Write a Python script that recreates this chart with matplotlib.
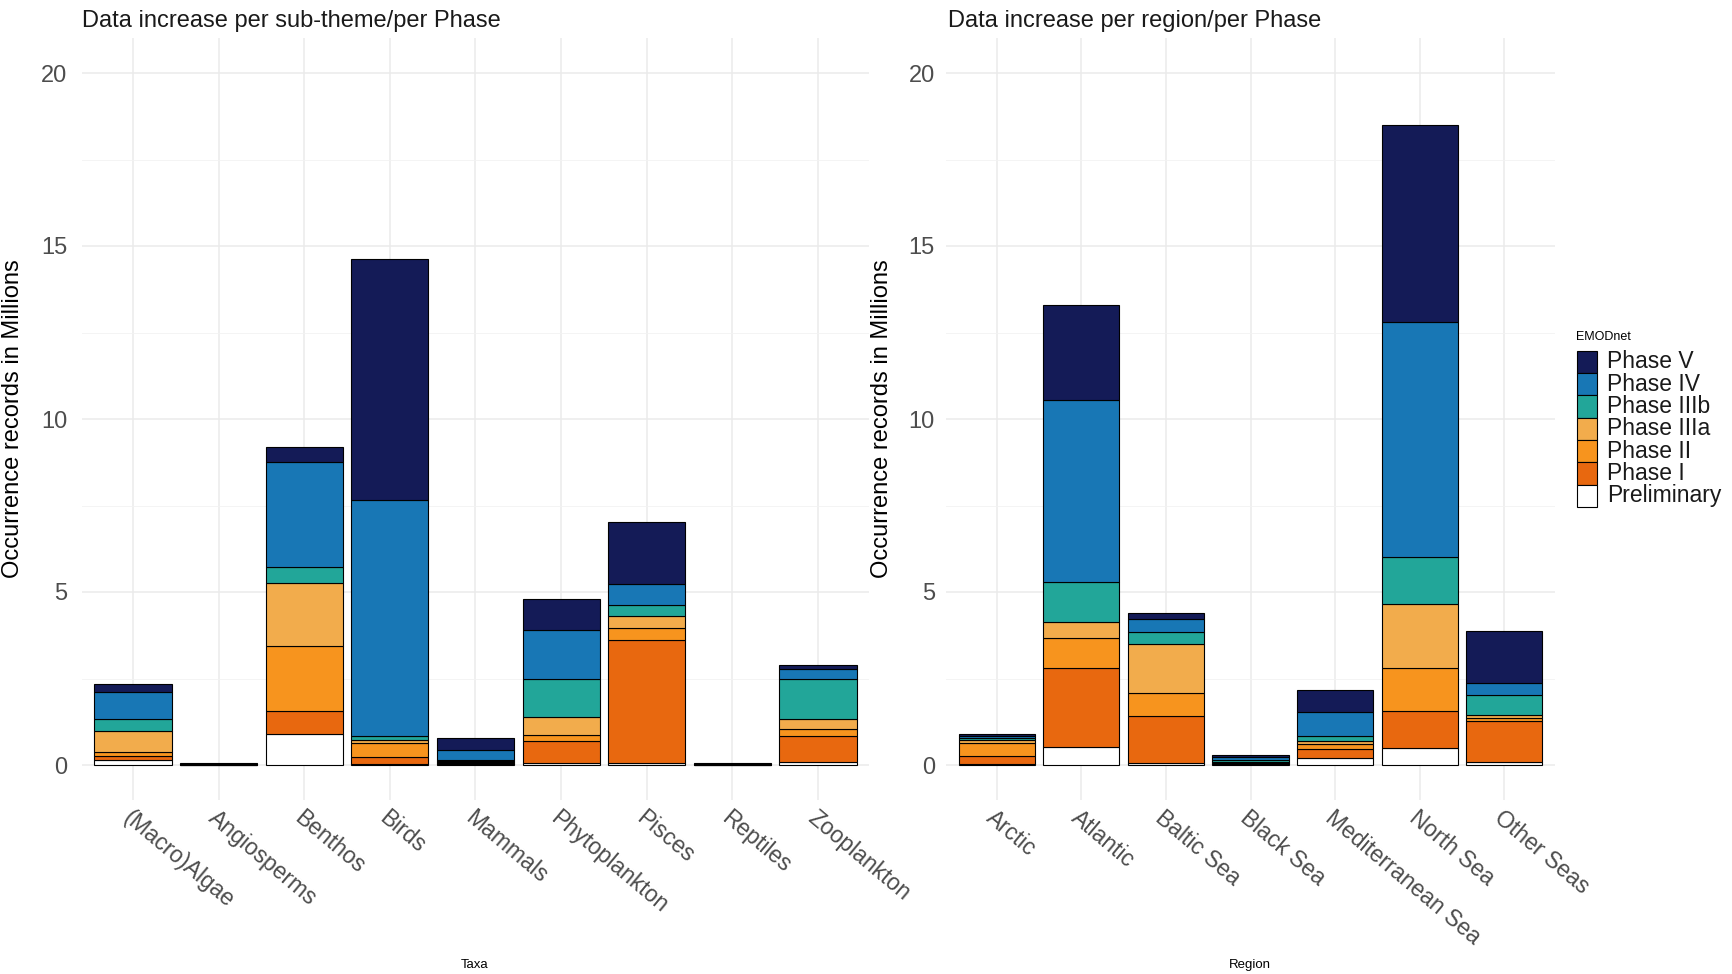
import numpy as np
import matplotlib
matplotlib.use('Agg')
import matplotlib.pyplot as plt
from matplotlib.patches import Rectangle

plt.rcParams['font.family'] = ['Liberation Sans', 'DejaVu Sans']

# ---------------------------------------------------------------
PHASES = ['Preliminary', 'Phase I', 'Phase II', 'Phase IIIa',
          'Phase IIIb', 'Phase IV', 'Phase V']
COLORS = ['#ffffff', '#e8680f', '#f7941e', '#f2ac4c',
          '#22a699', '#1877b5', '#141b57']

taxa = ['(Macro)Algae', 'Angiosperms', 'Benthos', 'Birds', 'Mammals',
        'Phytoplankton', 'Pisces', 'Reptiles', 'Zooplankton']
taxa_prelim = [0.14, 0.005, 0.91, 0.04, 0.03, 0.05, 0.07, 0.005, 0.10]
taxa_p1     = [0.12, 0.005, 0.66, 0.20, 0.04, 0.63, 3.54, 0.005, 0.73]
taxa_p2     = [0.11, 0.005, 1.88, 0.39, 0.03, 0.19, 0.35, 0.005, 0.22]
taxa_p3a    = [0.60, 0.005, 1.81, 0.10, 0.03, 0.51, 0.36, 0.005, 0.28]
taxa_p3b    = [0.36, 0.005, 0.45, 0.12, 0.02, 1.10, 0.31, 0.005, 1.15]
taxa_p4     = [0.79, 0.010, 3.06, 6.81, 0.29, 1.43, 0.59, 0.010, 0.29]
taxa_p5     = [0.21, 0.010, 0.42, 6.95, 0.34, 0.88, 1.80, 0.010, 0.12]

regions = ['Arctic', 'Atlantic', 'Baltic Sea', 'Black Sea',
           'Mediterranean Sea', 'North Sea', 'Other Seas']
reg_prelim = [0.02, 0.51, 0.07, 0.02, 0.19, 0.50, 0.10]
reg_p1     = [0.24, 2.29, 1.34, 0.03, 0.27, 1.07, 1.16]
reg_p2     = [0.39, 0.87, 0.68, 0.03, 0.14, 1.23, 0.10]
reg_p3a    = [0.08, 0.46, 1.40, 0.02, 0.08, 1.86, 0.08]
reg_p3b    = [0.05, 1.17, 0.34, 0.04, 0.17, 1.34, 0.57]
reg_p4     = [0.05, 5.26, 0.39, 0.08, 0.68, 6.79, 0.37]
reg_p5     = [0.07, 2.74, 0.17, 0.08, 0.65, 5.71, 1.48]

W, H = 1732, 974
fig = plt.figure(figsize=(W/100, H/100), dpi=100)

def StackBars(ax, cats, series, ypad):
    x = np.arange(len(cats))
    bottom = np.zeros(len(cats))
    for vals, col in zip(series, COLORS):
        vals = np.array(vals)
        ax.bar(x, vals, bottom=bottom, width=0.9, color=col,
               edgecolor='black', linewidth=0.8, zorder=3)
        bottom += vals
    ax.set_xlim(-0.6, len(cats) - 0.4)
    ax.set_ylim(-1, 21)
    ax.set_yticks([0, 5, 10, 15, 20])
    ax.set_yticks([2.5, 7.5, 12.5, 17.5], minor=True)
    ax.set_xticks(x)
    ax.set_xticklabels(cats, rotation=-40, ha='left', va='top',
                       rotation_mode='anchor', fontsize=16.5, color='#4d4d4d')
    ax.tick_params(axis='both', which='both', length=0)
    ax.tick_params(axis='x', pad=5)
    ax.tick_params(axis='y', pad=ypad, labelsize=17, labelcolor='#4d4d4d')
    ax.grid(which='major', color='#ebebeb', linewidth=1.1, zorder=0)
    ax.grid(which='minor', axis='y', color='#f2f2f2', linewidth=0.6, zorder=0)
    for s in ax.spines.values():
        s.set_visible(False)
    ax.set_ylabel('Occurrence records in Millions', fontsize=17)

bot = (H - 799.6) / H
hgt = 761.2 / H
ax1 = fig.add_axes([81.6/W, bot, 787.8/W, hgt])
StackBars(ax1, taxa, [taxa_prelim, taxa_p1, taxa_p2, taxa_p3a,
                      taxa_p3b, taxa_p4, taxa_p5], 10.5)
ax1.yaxis.set_label_coords((24 - 81.6)/787.8, 0.5)

ax2 = fig.add_axes([946/W, bot, 609/W, hgt])
StackBars(ax2, regions, [reg_prelim, reg_p1, reg_p2, reg_p3a,
                         reg_p3b, reg_p4, reg_p5], 8)
ax2.yaxis.set_label_coords((892.5 - 946)/609, 0.5)

fig.text(82/W, 1 - 21/H, 'Data increase per sub-theme/per Phase',
         fontsize=17, va='center', ha='left', color='#1a1a1a')
fig.text(948/W, 1 - 21/H, 'Data increase per region/per Phase',
         fontsize=17, va='center', ha='left', color='#1a1a1a')
fig.text(475/W, 1 - 965/H, 'Taxa', fontsize=9.5, ha='center', va='center')
fig.text(1250/W, 1 - 965/H, 'Region', fontsize=9.5, ha='center', va='center')

# legend drawn in pixel coordinates
lg = fig.add_axes([0, 0, 1, 1], zorder=5)
lg.set_xlim(0, W)
lg.set_ylim(H, 0)
lg.axis('off')
lg.text(1576, 337, 'EMODnet', fontsize=9, va='center', ha='left')
KEY = 22.3
for i, (lab, col) in enumerate(zip(PHASES[::-1], COLORS[::-1])):
    y0 = 350.7 + i * KEY
    lg.add_patch(Rectangle((1577, y0), 20, KEY, facecolor=col,
                           edgecolor='black', linewidth=0.8))
    lg.text(1607, y0 + KEY/2, lab, fontsize=16.5, va='center', ha='left',
            color='#1a1a1a')

fig.savefig('out.png', dpi=100)
